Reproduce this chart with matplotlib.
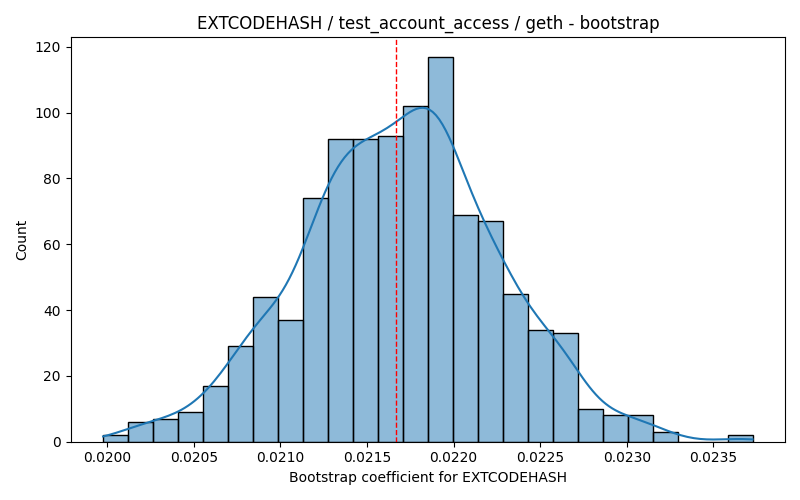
import numpy as np
import matplotlib
matplotlib.use("Agg")
import matplotlib.pyplot as plt

# bootstrap histogram (26 bins)
coef_min = 0.019977
coef_max = 0.023726
counts = [2, 6, 7, 9, 17, 29, 44, 37, 74, 92, 92, 93, 102, 117,
          69, 67, 45, 34, 33, 10, 8, 8, 3, 0, 0, 2]
point_estimate = 0.021665

opcode = "EXTCODEHASH"
test_name = "test_account_access"
client = "geth"


def kde_from_bins(centers, weights, grid):
    # gaussian kde, scott bandwidth using the real sample size
    n = weights.sum()
    mean = np.sum(weights * centers) / n
    std = np.sqrt(np.sum(weights * (centers - mean) ** 2) / n)
    bw = std * n ** (-1 / 5)
    z = (grid[:, None] - centers[None, :]) / bw
    dens = np.sum(weights * np.exp(-0.5 * z ** 2), axis=1) / (n * bw * np.sqrt(2 * np.pi))
    return dens


def main():
    edges = np.linspace(coef_min, coef_max, len(counts) + 1)
    centers = (edges[:-1] + edges[1:]) / 2
    widths = np.diff(edges)
    w = np.array(counts, dtype=float)

    fig, ax = plt.subplots(figsize=(8, 5), dpi=100)
    ax.bar(edges[:-1], counts, width=widths, align="edge",
           facecolor=(0.122, 0.467, 0.706, 0.5), edgecolor="black", linewidth=1)

    grid = np.linspace(coef_min, coef_max, 200)
    dens = kde_from_bins(centers, w, grid)
    ax.plot(grid, dens * w.sum() * widths[0], color="C0", linewidth=1.5)

    ax.axvline(point_estimate, color="red", linestyle="--", linewidth=1)

    ax.set_title(f"{opcode} / {test_name} / {client} - bootstrap")
    ax.set_xlabel(f"Bootstrap coefficient for {opcode}")
    ax.set_ylabel("Count")
    plt.tight_layout()
    plt.savefig("out.png", dpi=100)


if __name__ == "__main__":
    main()
